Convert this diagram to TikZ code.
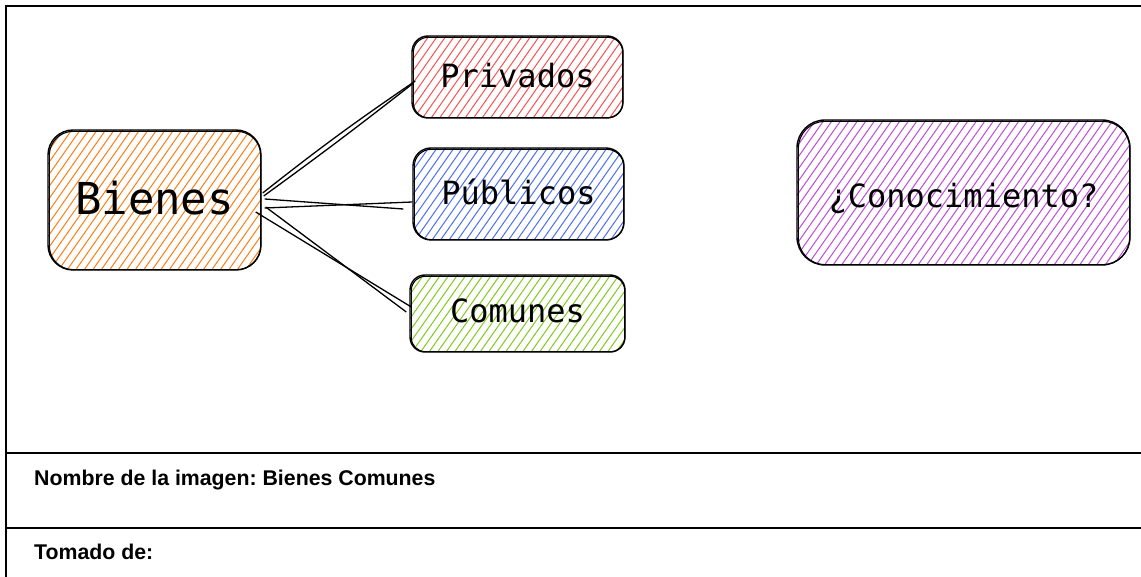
\documentclass[tikz,border=0pt]{standalone}
\usepackage{fontspec}
\newfontfamily\monofont{DejaVu Sans Mono}
\newfontfamily\footfont{Liberation Sans}
\usetikzlibrary{calc}
\frenchspacing
\definecolor{cOrange}{HTML}{FD7E14}
\definecolor{cRed}{HTML}{FA5252}
\definecolor{cBlue}{HTML}{4C6EF5}
\definecolor{cGreen}{HTML}{82C91E}
\definecolor{cViolet}{HTML}{BE4BDB}
\tikzset{
  hach/.style={path picture={
    \foreach \k in {-22,...,45}{
      \draw[#1, line width=1pt]
        ($(path picture bounding box.south west)+(\k*8.5pt,-3pt)$) -- ++(55:300pt);
    }}},
  sbox/.style={draw=black, line width=1.4pt, inner sep=0pt, text depth=0pt},
  sk2/.style={draw=black, line width=1.1pt},
  conn/.style={draw=black, line width=1.3pt},
  frame/.style={draw=black, line width=2.2pt},
  foot/.style={font=\footfont\bfseries\fontsize{21.3}{24}\selectfont, inner sep=0pt, anchor=base west},
  bigtxt/.style={font=\monofont\fontsize{44}{48}\selectfont},
  midtxt/.style={font=\monofont\fontsize{32}{36}\selectfont}
}
\begin{document}
\begin{tikzpicture}[x=1pt,y=-1pt]
\useasboundingbox (0,0) rectangle (1141,577);
% table frame
\draw[frame] (6,6) -- (1141,6);
\draw[frame] (6,5) -- (6,577);
\draw[frame] (6,453) -- (1141,453);
\draw[frame] (6,528) -- (1141,528);

% boxes
\node[sbox, hach=cOrange, bigtxt, text height=30pt, minimum width=213pt, minimum height=140pt, rounded corners=25pt] (bienes) at (154.5,200) {Bienes};
\draw[sk2, rounded corners=24pt] ($(bienes.south west)+(2,-1)$) rectangle ($(bienes.north east)+(-1,2)$);

\node[sbox, hach=cRed, midtxt, text height=22pt, minimum width=211pt, minimum height=82pt, rounded corners=16pt] (priv) at (517.5,77) {Privados};
\draw[sk2, rounded corners=15pt] ($(priv.south west)+(2,-1)$) rectangle ($(priv.north east)+(-1,2)$);

\node[sbox, hach=cBlue, midtxt, text height=22pt, minimum width=211pt, minimum height=92pt, rounded corners=18pt] (pub) at (518.5,194) {Públicos};
\draw[sk2, rounded corners=17pt] ($(pub.south west)+(2,-1)$) rectangle ($(pub.north east)+(-1,2)$);

\node[sbox, hach=cGreen, midtxt, text height=19pt, minimum width=215pt, minimum height=77pt, rounded corners=15pt] (com) at (517.5,313.5) {Comunes};
\draw[sk2, rounded corners=14pt] ($(com.south west)+(2,-1)$) rectangle ($(com.north east)+(-1,2)$);

\node[sbox, hach=cViolet, midtxt, text height=31pt, minimum width=333pt, minimum height=145pt, rounded corners=28pt] (con) at (963.5,192.5) {¿Conocimiento?};
\draw[sk2, rounded corners=27pt] ($(con.south west)+(2,-1)$) rectangle ($(con.north east)+(-1,2)$);

% connectors (double sketch strokes)
\draw[conn] ($(bienes.east)+(1,-7)$) to[bend left=2] ($(priv.west)+(4,4)$);
\draw[conn] ($(bienes.east)+(2,-4)$) to[bend right=1] ($(priv.west)+(1,7)$);

\draw[conn] ($(bienes.east)+(3,-1)$) -- ($(pub.west)+(-9,15)$);
\draw[conn] ($(bienes.east)+(3,8)$) -- ($(pub.west)+(0,8)$);

\draw[conn] ($(bienes.east)+(-6,12)$) -- ($(com.west)+(2,-6.5)$);
\draw[conn] ($(bienes.east)+(4,7)$) -- ($(com.west)+(-3,-1.5)$);

% footer
\node[foot] (nombre) at (34,485) {Nombre de la imagen: Bienes Comunes};
\node[foot] (tomado) at (34,559) {Tomado de:};
\end{tikzpicture}
\end{document}
